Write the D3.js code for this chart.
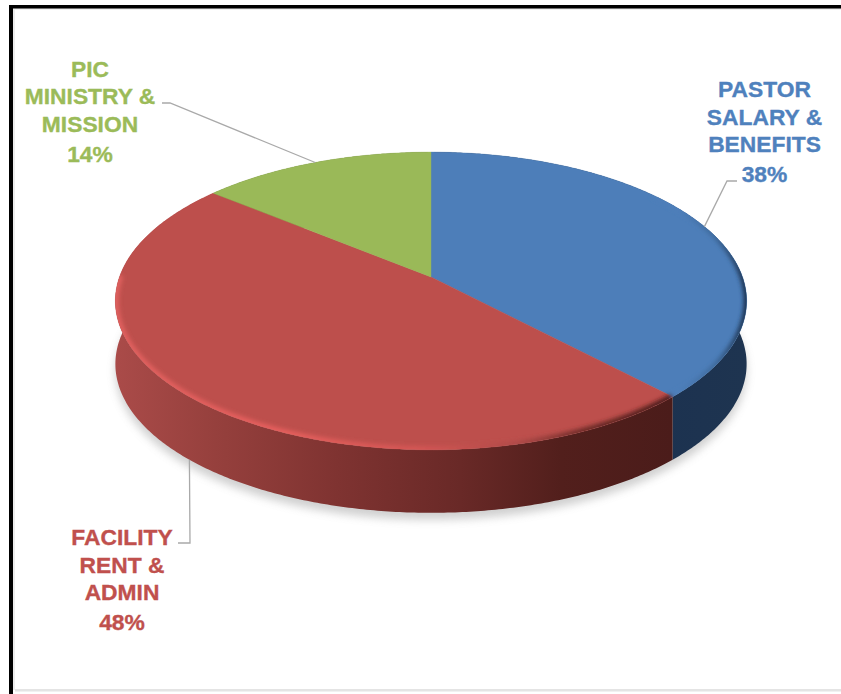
<!DOCTYPE html>
<html>
<head>
<meta charset="utf-8">
<script src="https://cdn.jsdelivr.net/npm/d3@7/dist/d3.min.js"></script>
<style>
  html, body { margin: 0; padding: 0; background: #fff; }
  svg { display: block; }
  text { font-family: "Liberation Sans", Arial, sans-serif; font-weight: 700; font-size: 22.8px; text-anchor: middle; stroke-width: 0.35px; }
</style>
</head>
<body>
<svg id="chart" width="841" height="694"></svg>
<script>
// Budget shares, clockwise from twelve o'clock
const categories = ["PASTOR SALARY & BENEFITS", "FACILITY RENT & ADMIN", "PIC MINISTRY & MISSION"];
const shares = [38, 48, 14];
const labelLines = [
  ["PASTOR", "SALARY &", "BENEFITS", "38%"],
  ["FACILITY", "RENT &", "ADMIN", "48%"],
  ["PIC", "MINISTRY &", "MISSION", "14%"]
];
const topColors = ["#4d7eb9", "#bd4f4c", "#9ab958"];
const textColors = ["#4f81bd", "#c0504d", "#9bbb59"];

// Tilted disc: the hub sits above the centre of the visible ellipse because of perspective
const hub = { x: 431, y: 277 };
const radius = 311.5, foreshorten = 145, perspective = 0.161, depth = 63;

const project = (angle, r = 1) => {
  const across = Math.sin(angle) * r, away = Math.cos(angle) * r;
  const w = 1 + perspective * away;
  return [hub.x + radius * across / w, hub.y - foreshorten * away / w];
};
const lowered = ([x, y]) => [x, y + depth];
const line = d3.line();

const arcs = d3.pie().sort(null).value(d => d)(shares);
const rimPoints = (a0, a1) => {
  const n = Math.max(2, Math.ceil((a1 - a0) / 0.01));
  return d3.range(n + 1).map(i => project(a0 + (a1 - a0) * i / n));
};
const wedge = a => line([[hub.x, hub.y], ...rimPoints(a.startAngle, a.endAngle)]) + "Z";
const fullRim = rimPoints(0, 2 * Math.PI);

const svg = d3.select("#chart");
const defs = svg.append("defs");

defs.append("filter").attr("id", "soft-shadow")
  .attr("x", "-10%").attr("y", "-10%").attr("width", "120%").attr("height", "120%")
  .append("feGaussianBlur").attr("stdDeviation", 4.5);
defs.append("filter").attr("id", "bevel-blur")
  .attr("x", "-10%").attr("y", "-10%").attr("width", "120%").attr("height", "120%")
  .append("feGaussianBlur").attr("stdDeviation", 2.2);

const horizontalGradient = (id, x1, x2, stops) => {
  const g = defs.append("linearGradient").attr("id", id)
    .attr("gradientUnits", "userSpaceOnUse")
    .attr("x1", x1).attr("x2", x2).attr("y1", 0).attr("y2", 0);
  stops.forEach(([o, c]) => g.append("stop").attr("offset", o).attr("stop-color", c));
};
horizontalGradient("wall-blue", 660, 745, [[0, "#1c3250"], [1, "#1e3450"]]);
horizontalGradient("wall-red", 115, 672, [
  [0, "#aa4b49"], [0.18, "#96403d"], [0.4, "#7f3331"], [0.62, "#692927"], [0.8, "#521f1c"], [1, "#4b1c1a"]
]);
horizontalGradient("wall-green", 218, 431, [[0, "#5c7035"], [1, "#5c7035"]]);
horizontalGradient("bevel-red", 115, 672, [
  [0, "#e0605e"], [0.3, "#e65f5d"], [0.55, "#d45654"], [0.72, "#b04a48"], [0.84, "#6e2b28"], [1, "#4b1c1a"]
]);
horizontalGradient("bevel-blue", 680, 745, [[0, "#4d7eb9"], [0.55, "#3e6a9c"], [1, "#1d3350"]]);

defs.append("clipPath").attr("id", "disc-clip")
  .append("path").attr("d", line(fullRim) + "Z");

// Frame
svg.append("rect").attr("x", 14).attr("y", 8).attr("width", 827).attr("height", 1.5).attr("fill", "#e2e2e2");
svg.append("rect").attr("x", 13).attr("y", 8).attr("width", 2).attr("height", 682).attr("fill", "#ececec");
svg.append("rect").attr("x", 15).attr("y", 689).attr("width", 826).attr("height", 2.5).attr("fill", "#e4e4e4");
svg.append("rect").attr("x", 9).attr("y", 5).attr("width", 832).attr("height", 3.5).attr("fill", "#000");
svg.append("rect").attr("x", 9).attr("y", 5).attr("width", 4).attr("height", 689).attr("fill", "#000");

// Ground shadow under the disc
svg.append("path")
  .attr("d", line(fullRim.map(lowered).map(([x, y]) => [x, y + 7])) + "Z")
  .attr("fill", "#8a8a8a").attr("opacity", 0.4)
  .attr("filter", "url(#soft-shadow)");

// Side wall, only the near half of the rim shows
const wallIds = ["wall-blue", "wall-red", "wall-green"];
svg.append("g").selectAll("path").data(arcs).join("path")
  .attr("d", a => {
    const rim = rimPoints(a.startAngle, a.endAngle);
    return line([...rim, ...rim.slice().reverse().map(lowered)]) + "Z";
  })
  .attr("fill", (a, i) => `url(#${wallIds[i]})`);

// Top face
svg.append("g").selectAll("path").data(arcs).join("path")
  .attr("d", wedge)
  .attr("fill", (a, i) => topColors[i])
  .attr("stroke", (a, i) => topColors[i])
  .attr("stroke-width", 0.4);

// Bevel along the rim of the top face
const bevel = svg.append("g").attr("clip-path", "url(#disc-clip)")
  .append("g").attr("filter", "url(#bevel-blur)").attr("fill", "none");
bevel.append("path")
  .attr("d", line(rimPoints(arcs[1].startAngle, arcs[1].endAngle - 0.68)))
  .attr("stroke", "url(#bevel-red)").attr("stroke-width", 7);
bevel.append("path")
  .attr("d", line(rimPoints(arcs[0].startAngle + 0.9, arcs[0].endAngle)))
  .attr("stroke", "url(#bevel-blue)").attr("stroke-width", 6);

// Leader lines run from each slice's mid-angle on the rim to its label
const midAngle = a => (a.startAngle + a.endAngle) / 2;
const leaders = [
  { from: project(midAngle(arcs[0])), via: [[727, 181], [737, 181]] },
  { from: lowered(project(midAngle(arcs[1]))), via: [[190, 543], [178, 543]] },
  { from: project(midAngle(arcs[2])), via: [[170, 103], [162, 103]] }
];
svg.append("g").selectAll("path").data(leaders).join("path")
  .attr("d", d => line([d.from, ...d.via]))
  .attr("fill", "none").attr("stroke", "#a9a9a9").attr("stroke-width", 1.3);

// Labels
const labelAnchors = [
  { x: 764.5, baselines: [97, 125, 152, 182] },
  { x: 122, baselines: [545, 573, 600, 630] },
  { x: 90, baselines: [77, 104, 132, 162] }
];
svg.append("g").selectAll("g").data(labelLines).join("g")
  .attr("fill", (d, i) => textColors[i])
  .attr("stroke", (d, i) => textColors[i])
  .each(function (lines, i) {
    d3.select(this).selectAll("text").data(lines).join("text")
      .attr("x", labelAnchors[i].x)
      .attr("y", (t, j) => labelAnchors[i].baselines[j])
      .text(t => t);
  });
</script>
</body>
</html>
